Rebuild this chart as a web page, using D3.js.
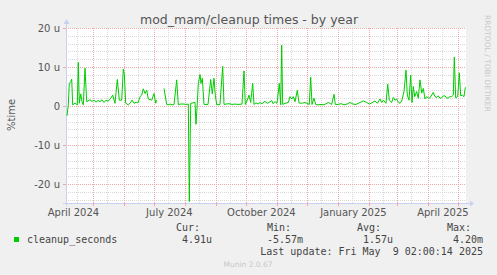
<!DOCTYPE html>
<html lang="en">
  <head>
    <meta charset="UTF-8" />
    <title>mod_mam/cleanup times - by year</title>
    <script src="https://d3js.org/d3.v7.min.js"></script>
    <style>
      body { margin: 0; background: #f0f0f0; }
      text { font-family: "DejaVu Sans", sans-serif; fill: #555; }
      .mono { font-family: "DejaVu Sans Mono", monospace; font-size: 10px; fill: #444; }
      .minor { stroke: #d8d8d8; stroke-dasharray: 1,1; }
      .major { stroke: #f0a8a8; stroke-dasharray: 1,1; }
      .axis { stroke: #c8cff0; }
    </style>
  </head>

  <body>
    <script>
      // days after the graph start (2024-04-04 02:00), value in micro-units
      const dayOffsets = [
        1, 2.3, 3.3, 4.7, 5.7, 6.7, 9, 11.3, 12.3, 13.3, 14.7, 16, 17.3, 19, 20.7,
        22, 24, 26, 28, 30, 32, 34, 36, 38, 40, 42, 44, 46.7, 49, 51.3, 53.3, 55.7,
        57.3, 58.3, 59.7, 62.3, 64, 66, 68, 70, 72, 74, 75.7, 77.3, 79, 80.7, 82.3,
        85.7, 88, 89.7, 90.7, 94, 98, 100.7, 102, 104, 106, 108, 110.7, 112.3, 114,
        116, 118, 120, 122.3, 123.3, 124.7, 129, 130, 131.3, 132.3, 134, 135, 136.3,
        138, 140, 142, 144.7, 146.3, 148, 149.3, 150.7, 154, 156.7, 158, 160, 163,
        166, 169, 172, 176, 178, 179.3, 181.3, 183, 184.7, 186.7, 188, 190, 192, 194,
        196, 199, 201, 203, 205.7, 207, 209, 211, 213.3, 214.7, 215.7, 216.7, 219,
        222.3, 224, 225.7, 227.3, 229, 231.3, 233, 235.7, 239, 243.3, 244.7, 246, 248,
        249.7, 252, 255, 258, 262.3, 265.7, 268, 269.3, 272, 275, 278, 281, 284, 287,
        290, 294, 297.3, 300.7, 303.3, 305.7, 309, 311.3, 314, 315.7, 317.3, 320,
        321.7, 323.3, 325.7, 327.3, 329, 330.7, 332.3, 334, 335.7, 338, 340, 341.3,
        343, 344.7, 346, 347.3, 348.7, 350.7, 352.3, 354, 355.7, 357.3, 359, 360.7,
        362.3, 364, 367.3, 369, 370.7, 372.3, 374, 375.7, 377.3, 379, 380.7, 382.3,
        384, 385.7, 387.3, 388.3, 389.7, 391.7, 393.3, 394.7, 396.3, 398, 399.3
      ];
      const microSeconds = [
        -2.5, 0.3, 5.8, 6.2, 6.9, 0.3, 0.7, 0.3, 11.2, 0.7, 3.1, 1.1, 0.3, 9.7, 1.1,
        1.3, 1.6, 1.2, 1.5, 1.0, 1.4, 1.1, 1.6, 0.9, 1.5, 1.2, 1.7, 2.8, 0.7, 6.8, 1.5, 1.5,
        9.5, 8.3, 0.7, 0.3, 0.7, 1.5, 0.7, 1.0, 0.8, 2.4, 2.8, 4.4, 3.2, 4.1, 1.8,
        1.5, 3.2, 0.7, 1.5, null, 4.5, 0.4, 0.3, 0.5, 0.3, 0.4, 6.7, 0.3, 0.5,
        0.5, 0.5, 0.4, 0.5, -24.5, 0.7, 0.9, -4.7, 0.7, 5.8, 8.1, 5.8, 7.1,
        0.4, 0.4, 0.4, 6.8, 3.1, 7.1, 2.8, 0.3, 0.4, 10.2, 0.4, 0.5, 0.6,
        0.4, 0.5, 0.4, 0.5, 9.0, 0.4, 1.5, 2.8, 0.9, 5.8, 0.4, 0.8, 0.5, 0.9,
        0.6, 1.2, 0.7, 0.9, 1.4, 0.6, 1.1, 0.7, 5.8, 0.3, 15.6, 0.4, 0.7,
        0.9, 2.4, 1.8, 2.4, 1.1, 4.0, 0.8, 0.7, 0.9, 0.4, 7.4, 0.4, 2.0,
        0.4, 0.3, 0.4, 0.3, 0.9, 0.4, 3.0, 0.4, 0.4, 0.6, 0.3, 0.5, 0.9, 0.5,
        0.4, 0.9, 1.3, 0.9, 0.5, 0.8, 1.3, 0.7, 1.8, 0.9, 1.5, 0.7,
        5.6, 1.5, 0.9, 2.2, 1.5, 1.8, 1.0, 0.7, 1.3, 3.7, 9.2, 2.8,
        1.5, 7.9, 0.9, 5.0, 2.4, 3.7, 2.0, 6.7, 3.3, 4.5, 1.8, 2.4,
        2.0, 2.1, 3.5, 2.4, 2.2, 2.6, 2.0, 2.1, 2.6, 2.6, 2.0, 2.1,
        2.4, 2.4, 2.8, 12.5, 2.1, 2.4, 8.5, 2.6, 2.8, 2.4, 4.8
      ];
      const yTicks = [-20, -10, 0, 10, 20];
      const xLabels = ["April 2024", "July 2024", "October 2024", "January 2025", "April 2025"];
      const legendHeads = ["Cur:", "Min:", "Avg:", "Max:"];
      const legendVals = ["4.91u", "-5.57m", "1.57u", "4.20m"];

      const width = 497, height = 275;
      const endTime = new Date(2025, 4, 9, 2, 0, 14);
      const startTime = d3.timeDay.offset(endTime, -400);

      const svg = d3.select("body").append("svg")
        .attr("width", width).attr("height", height);

      svg.append("rect").attr("width", width).attr("height", height).attr("fill", "#f0f0f0");

      const x = d3.scaleTime().domain([startTime, endTime]).range([66, 466]);
      const y = d3.scaleLinear().domain([-24.87, 20]).range([203, 28]);

      svg.append("rect").attr("x", 66).attr("y", 28).attr("width", 400).attr("height", 175).attr("fill", "#fff");

      // minor grid
      const minorY = d3.range(-24, 21, 2).filter(v => v % 10 !== 0);
      svg.selectAll(".hmin").data(minorY).enter().append("line")
        .attr("class", "minor")
        .attr("x1", 66).attr("x2", 466)
        .attr("y1", d => Math.round(y(d)) + 0.5).attr("y2", d => Math.round(y(d)) + 0.5);

      const months = d3.timeMonth.range(startTime, endTime);
      const mids = d3.timeMonth.range(d3.timeMonth.offset(startTime, -1), endTime)
        .map(m => new Date(m.getFullYear(), m.getMonth(), 15))
        .filter(d => d > startTime && d < endTime);
      svg.selectAll(".vmin").data(mids).enter().append("line")
        .attr("class", "minor")
        .attr("y1", 28).attr("y2", 203)
        .attr("x1", d => Math.round(x(d)) + 0.5).attr("x2", d => Math.round(x(d)) + 0.5);

      // major grid
      svg.selectAll(".hmaj").data(yTicks).enter().append("line")
        .attr("class", "major")
        .attr("x1", 66).attr("x2", 466)
        .attr("y1", d => Math.round(y(d)) + 0.5).attr("y2", d => Math.round(y(d)) + 0.5);
      svg.selectAll(".vmaj").data(months).enter().append("line")
        .attr("class", "major")
        .attr("y1", 28).attr("y2", 203)
        .attr("x1", d => Math.round(x(d)) + 0.5).attr("x2", d => Math.round(x(d)) + 0.5);

      // axes
      svg.append("line").attr("class", "axis").attr("x1", 63).attr("x2", 470).attr("y1", 203.5).attr("y2", 203.5);
      svg.append("line").attr("class", "axis").attr("x1", 66.5).attr("x2", 66.5).attr("y1", 206).attr("y2", 24);
      svg.append("path").attr("d", "M470,200.5 L474,203.5 L470,206.5 Z").attr("fill", "#c8cff0");
      svg.append("path").attr("d", "M63.5,24 L66.5,19 L69.5,24 Z").attr("fill", "#c8cff0");
      svg.selectAll(".tick").data(months).enter().append("line")
        .attr("stroke", "#f0a8a8")
        .attr("x1", d => Math.round(x(d)) + 0.5).attr("x2", d => Math.round(x(d)) + 0.5)
        .attr("y1", 203).attr("y2", 206);
      svg.selectAll(".ticky").data(yTicks).enter().append("line")
        .attr("stroke", "#f0a8a8")
        .attr("x1", 63).attr("x2", 66)
        .attr("y1", d => Math.round(y(d)) + 0.5).attr("y2", d => Math.round(y(d)) + 0.5);

      svg.selectAll(".ylab").data(yTicks).enter().append("text")
        .attr("x", 60).attr("y", d => y(d) + 3.5)
        .attr("text-anchor", "end").attr("font-size", 10)
        .text(d => d === 0 ? "0" : d + " u");

      // labels centred in their month
      const labelMonths = [new Date(2024, 3, 1), new Date(2024, 6, 1), new Date(2024, 9, 1), new Date(2025, 0, 1), new Date(2025, 3, 1)];
      svg.selectAll(".xlab").data(labelMonths).enter().append("text")
        .attr("x", d => (Math.max(x(d), 66) + x(d3.timeMonth.offset(d, 1))) / 2 + (d < startTime ? -6 : 0))
        .attr("y", 216).attr("text-anchor", "middle").attr("font-size", 10)
        .text((d, i) => xLabels[i]);

      svg.append("text").attr("x", 249).attr("y", 24).attr("text-anchor", "middle")
        .attr("font-size", 12.5).text("mod_mam/cleanup times - by year");

      svg.append("text").attr("transform", "translate(15,115) rotate(-90)")
        .attr("text-anchor", "middle").attr("font-size", 10).text("%time");

      svg.append("text").attr("transform", "translate(485,15) rotate(90)")
        .attr("font-size", 7.5).style("fill", "#c8c8c8").text("RRDTOOL / TOBI OETIKER");

      // series
      const points = dayOffsets.map((d, i) => ({ t: new Date(+startTime + d * 864e5), v: microSeconds[i] }));
      const line = d3.line()
        .defined(d => d.v !== null)
        .x(d => x(d.t)).y(d => y(d.v));
      svg.append("path").datum(points)
        .attr("fill", "none").attr("stroke", "#00cc00").attr("stroke-width", 1)
        .attr("d", line);

      // legend
      svg.append("rect").attr("x", 14).attr("y", 237).attr("width", 5).attr("height", 5).attr("fill", "#00cc00");
      svg.append("text").attr("class", "mono").attr("x", 27).attr("y", 243).text("cleanup_seconds");
      const headX = [176, 267, 357, 447];
      const valEnd = [212, 303, 393, 483];
      svg.selectAll(".lh").data(legendHeads).enter().append("text")
        .attr("class", "mono").attr("x", (d, i) => headX[i]).attr("y", 231).text(d => d);
      svg.selectAll(".lv").data(legendVals).enter().append("text")
        .attr("class", "mono").attr("x", (d, i) => valEnd[i]).attr("y", 243)
        .attr("text-anchor", "end").text(d => d);
      svg.append("text").attr("class", "mono").attr("x", 483).attr("y", 255)
        .attr("text-anchor", "end").style("white-space", "pre").attr("xml:space", "preserve")
        .text("Last update: Fri May  9 02:00:14 2025");

      svg.append("text").attr("x", 248).attr("y", 267).attr("text-anchor", "middle")
        .attr("font-size", 7.5).style("fill", "#c8c8c8").text("Munin 2.0.67");
    </script>
  </body>
</html>
